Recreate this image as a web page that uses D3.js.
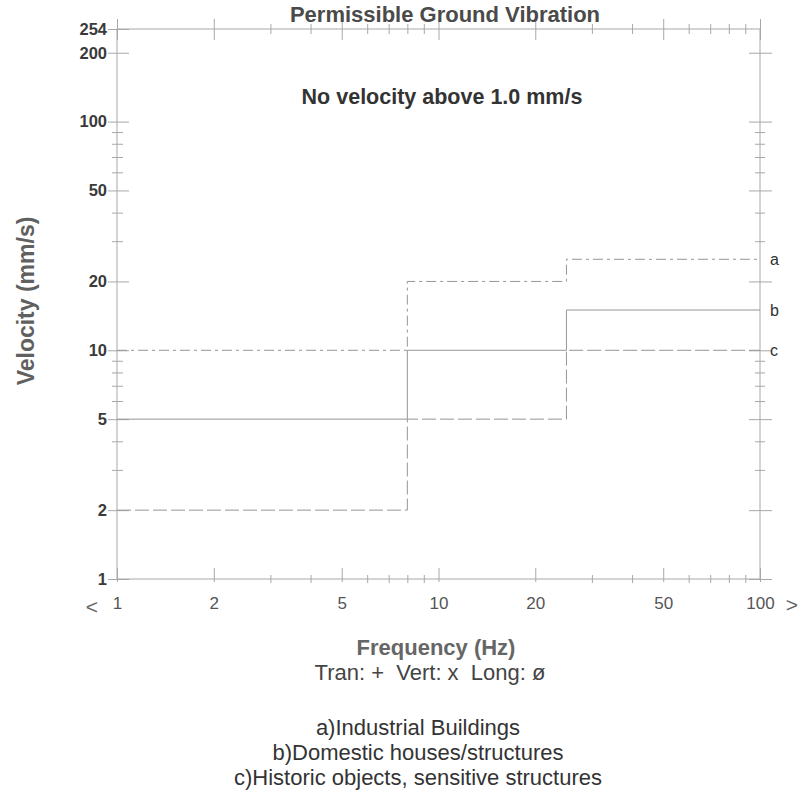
<!DOCTYPE html>
<html>
<head>
<meta charset="utf-8">
<script src="https://cdn.jsdelivr.net/npm/d3@7"></script>
<style>
  body { margin: 0; background: #fff; }
  svg { display: block; font-family: "Liberation Sans", Arial, sans-serif; }
</style>
</head>
<body>
<script>
'use strict';

// frequency limits (Hz) where the permissible velocity changes
const freqBreaks = [1, 8, 25, 100];

// permissible velocity (mm/s) for each frequency band
const industrial = [10, 20, 25];
const domestic = [5, 10, 15];
const historic = [2, 5, 10];

const seriesNames = ['a', 'b', 'c'];

const xTicks = [1, 2, 5, 10, 20, 50, 100];
const xMinor = [3, 4, 6, 7, 8, 9, 30, 40, 60, 70, 80, 90];
const yTicks = [1, 2, 5, 10, 20, 50, 100, 200, 254];
const yMinor = [3, 4, 6, 7, 8, 9, 30, 40, 60, 70, 80, 90];

const legendLines = [
  'a)Industrial Buildings',
  'b)Domestic houses/structures',
  'c)Historic objects, sensitive structures'
];

(function() {

  let svg = d3.select('body')
    .append('svg')
    .attr('width', 808)
    .attr('height', 793);

  const plotLeft = 117, plotRight = 760, plotTop = 29, plotBottom = 579;
  const axisColor = '#a8a8a8';

  let x = d3.scaleLog().domain([1, 100]).range([plotLeft, plotRight]);
  let y = d3.scaleLog().domain([1, 254]).range([plotBottom, plotTop]);

  // frame
  svg.append('rect')
    .attr('x', plotLeft)
    .attr('y', plotTop)
    .attr('width', plotRight - plotLeft)
    .attr('height', plotBottom - plotTop)
    .attr('fill', 'none')
    .attr('stroke', axisColor)
    .attr('stroke-width', 1);

  // bottom axis with labels
  let bottomAxis = svg.append('g')
    .attr('transform', `translate(0,${plotBottom})`)
    .call(d3.axisBottom(x).tickValues(xTicks).tickFormat(d3.format('d')).tickSize(0).tickPadding(18));
  bottomAxis.select('.domain').remove();
  bottomAxis.selectAll('.tick line').attr('y1', 3).attr('y2', -11).attr('stroke', axisColor);
  bottomAxis.selectAll('text').style('font-size', '17px').attr('fill', '#555');

  let bottomMinor = svg.append('g')
    .attr('transform', `translate(0,${plotBottom})`)
    .call(d3.axisBottom(x).tickValues(xMinor).tickFormat('').tickSize(0));
  bottomMinor.select('.domain').remove();
  bottomMinor.selectAll('.tick line').attr('y1', 4).attr('y2', -4).attr('stroke', axisColor);

  // top axis, ticks only
  let topAxis = svg.append('g')
    .attr('transform', `translate(0,${plotTop})`)
    .call(d3.axisTop(x).tickValues(xTicks.concat(xMinor)).tickFormat('').tickSize(0));
  topAxis.select('.domain').remove();
  topAxis.selectAll('.tick line')
    .attr('y1', d => xTicks.includes(d) ? -10 : -5)
    .attr('y2', d => xTicks.includes(d) ? 11 : 5)
    .attr('stroke', axisColor);

  // left axis with labels
  let leftAxis = svg.append('g')
    .attr('transform', `translate(${plotLeft},0)`)
    .call(d3.axisLeft(y).tickValues(yTicks).tickFormat(d3.format('d')).tickSize(0).tickPadding(10));
  leftAxis.select('.domain').remove();
  leftAxis.selectAll('.tick line').attr('x1', -9).attr('x2', 12).attr('stroke', axisColor);
  leftAxis.selectAll('text').style('font-size', '16.5px').style('font-weight', 'bold').attr('fill', '#3a3a3a');

  let leftMinor = svg.append('g')
    .attr('transform', `translate(${plotLeft},0)`)
    .call(d3.axisLeft(y).tickValues(yMinor).tickFormat('').tickSize(0));
  leftMinor.select('.domain').remove();
  leftMinor.selectAll('.tick line').attr('x1', -5).attr('x2', 6).attr('stroke', axisColor);

  // right axis, ticks only
  let rightAxis = svg.append('g')
    .attr('transform', `translate(${plotRight},0)`)
    .call(d3.axisRight(y).tickValues(yTicks.slice(0, -1).concat(yMinor)).tickFormat('').tickSize(0));
  rightAxis.select('.domain').remove();
  rightAxis.selectAll('.tick line')
    .attr('x1', d => yTicks.includes(d) ? -11 : -5)
    .attr('x2', d => yTicks.includes(d) ? 12 : 5)
    .attr('stroke', axisColor);

  // permissible limit step lines
  const series = [industrial, domestic, historic];
  const dashes = ['10,4,3,4', null, '14,4'];

  let line = d3.line()
    .x(d => x(d[0]))
    .y(d => y(d[1]))
    .curve(d3.curveStepAfter);

  series.forEach((vals, i) => {
    let pts = freqBreaks.map((f, j) => [f, vals[Math.min(j, vals.length - 1)]]);
    svg.append('path')
      .datum(pts)
      .attr('d', line)
      .attr('fill', 'none')
      .attr('stroke', '#969696')
      .attr('stroke-width', 1)
      .attr('stroke-dasharray', dashes[i]);

    svg.append('text')
      .attr('x', plotRight + 10)
      .attr('y', y(vals[vals.length - 1]))
      .attr('dy', '0.35em')
      .style('font-size', '16px')
      .attr('fill', '#333')
      .text(seriesNames[i]);
  });

  // titles and labels
  svg.append('text')
    .attr('x', 445)
    .attr('y', 22)
    .attr('text-anchor', 'middle')
    .style('font-size', '22px')
    .style('font-weight', 'bold')
    .attr('fill', '#4a4a4a')
    .text('Permissible Ground Vibration');

  svg.append('text')
    .attr('x', 442)
    .attr('y', 104)
    .attr('text-anchor', 'middle')
    .style('font-size', '21.5px')
    .style('font-weight', 'bold')
    .attr('fill', '#333')
    .text('No velocity above 1.0 mm/s');

  svg.append('text')
    .attr('transform', 'translate(34,301)rotate(-90)')
    .attr('text-anchor', 'middle')
    .style('font-size', '23px')
    .style('font-weight', 'bold')
    .attr('fill', '#606060')
    .text('Velocity (mm/s)');

  svg.append('text')
    .attr('x', 92)
    .attr('y', 614)
    .attr('text-anchor', 'middle')
    .style('font-size', '21px')
    .attr('fill', '#666')
    .text('<');

  svg.append('text')
    .attr('x', 792)
    .attr('y', 612)
    .attr('text-anchor', 'middle')
    .style('font-size', '21px')
    .attr('fill', '#666')
    .text('>');

  svg.append('text')
    .attr('x', 436)
    .attr('y', 655)
    .attr('text-anchor', 'middle')
    .style('font-size', '22px')
    .style('font-weight', 'bold')
    .attr('fill', '#666')
    .text('Frequency (Hz)');

  svg.append('text')
    .attr('x', 430)
    .attr('y', 680)
    .attr('text-anchor', 'middle')
    .style('white-space', 'pre')
    .style('font-size', '22px')
    .attr('fill', '#444')
    .text('Tran: +  Vert: x  Long: ø');

  svg.selectAll('.legend')
    .data(legendLines)
    .enter()
    .append('text')
    .attr('class', 'legend')
    .attr('x', 418)
    .attr('y', (d, i) => 735 + i * 25)
    .attr('text-anchor', 'middle')
    .style('font-size', '22px')
    .attr('fill', '#333')
    .text(d => d);
})();
</script>
</body>
</html>
